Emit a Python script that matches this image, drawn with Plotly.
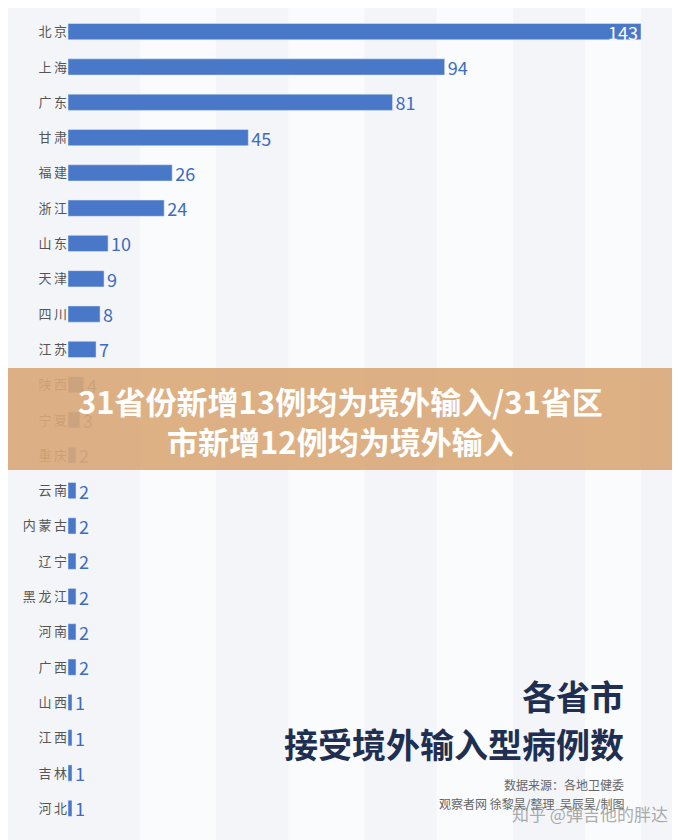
import plotly.graph_objects as go

provinces = ["北京", "上海", "广东", "甘肃", "福建", "浙江", "山东", "天津", "四川", "江苏",
             "陕西", "宁夏", "重庆", "云南", "内蒙古", "辽宁", "黑龙江", "河南", "广西",
             "山西", "江西", "吉林", "河北"]
cases = [143, 94, 81, 45, 26, 24, 10, 9, 8, 7, 4, 3, 2, 2, 2, 2, 2, 2, 2, 1, 1, 1, 1]

labels = [" " + "\u2009".join(p) for p in provinces]
text_pos = ["inside" if v > 120 else "outside" for v in cases]

T, B, H = 6, 22, 840
OFF = 8


def py(pix):
    # pixel row -> paper coordinate
    return (H - B - (pix - OFF)) / (H - T - B)


def px(pix):
    return (pix - OFF - 60) / (680 - 60 - 47)


fig = go.Figure(go.Bar(
    x=cases, y=labels, orientation="h",
    marker=dict(color="#4a78c9"),
    width=0.46,
    text=cases, textposition=text_pos,
    insidetextanchor="end", constraintext="none",
    insidetextfont=dict(color="white", size=18),
    outsidetextfont=dict(color="#3d6cc0", size=18),
    cliponaxis=False,
))

fig.update_layout(
    width=680, height=840,
    margin=dict(l=60, r=47, t=T, b=B, autoexpand=False),
    paper_bgcolor="#f3f5f9", plot_bgcolor="#f3f5f9",
    font=dict(family="Noto Sans CJK SC", color="#333"),
    showlegend=False,
    xaxis=dict(range=[0, 143], visible=False, automargin=False),
    yaxis=dict(autorange="reversed", tickfont=dict(size=13, color="#555"),
               ticks="", showgrid=False, automargin=False),
    bargap=0.5,
)

# faint vertical bands in background
for x0 in [0, 37, 74, 111]:
    fig.add_shape(type="rect", xref="x", yref="paper", x0=x0 + 18, x1=x0 + 37,
                  y0=-0.05, y1=1.05, fillcolor="white", opacity=0.6, line_width=0, layer="below")

# tan banner
fig.add_shape(type="rect", xref="paper", yref="paper", x0=-0.2, x1=1.2,
              y0=py(470), y1=py(368),
              fillcolor="#d9a877", opacity=0.9, line_width=0)
fig.add_annotation(xref="paper", yref="paper", x=px(340), y=py(420),
                   text="<b>31省份新增13例均为境外输入/31省区<br>市新增12例均为境外输入</b>",
                   showarrow=False, font=dict(size=31, color="white", family="Noto Sans CJK SC"),
                   align="center")

fig.add_annotation(xref="paper", yref="paper", x=px(626), y=py(722),
                   text="<b>各省市</b>", showarrow=False, xanchor="right",
                   font=dict(size=34, color="#1e2f52"))
fig.add_annotation(xref="paper", yref="paper", x=px(626), y=py(770),
                   text="<b>接受境外输入型病例数</b>", showarrow=False, xanchor="right",
                   font=dict(size=34, color="#1e2f52"))
fig.add_annotation(xref="paper", yref="paper", x=px(626), y=py(795),
                   text="数据来源：各地卫健委", showarrow=False, xanchor="right",
                   font=dict(size=12, color="#666"))
fig.add_annotation(xref="paper", yref="paper", x=px(626), y=py(814),
                   text="观察者网 徐黎昊/整理  吴辰昊/制图", showarrow=False, xanchor="right",
                   font=dict(size=12, color="#666"))
fig.add_annotation(xref="paper", yref="paper", x=px(670), y=py(828),
                   text="知乎 @弹吉他的胖达", showarrow=False, xanchor="right",
                   font=dict(size=17, color="rgba(150,150,150,0.8)"))

fig.write_html("out.html")
